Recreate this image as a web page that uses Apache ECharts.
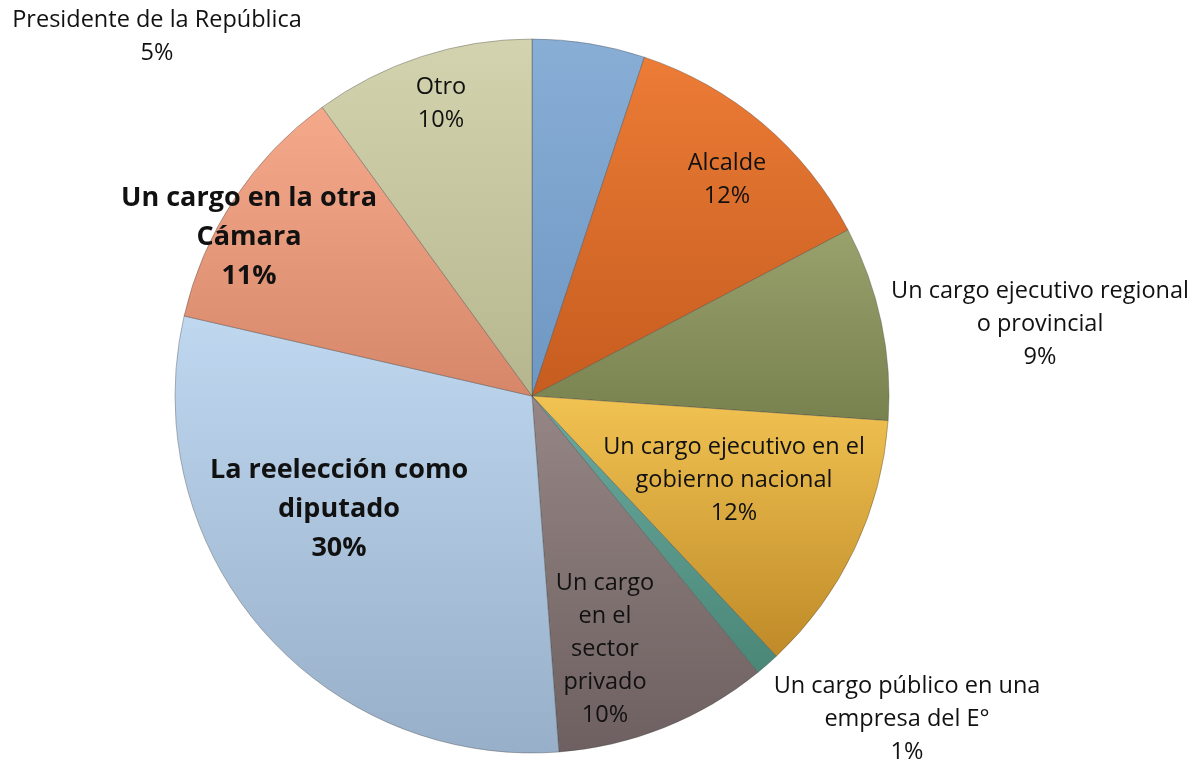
<!DOCTYPE html>
<html>
<head>
<meta charset="utf-8">
<title>pie</title>
<script src="https://cdn.jsdelivr.net/npm/echarts@6/dist/echarts.min.js"></script>
<style>
  body { margin: 0; padding: 0; background: #fff; }
  #main { width: 1196px; height: 761px; }
</style>
</head>
<body>
<div id="main"></div>
<script>
// categories and values (percent), clockwise from 12 o'clock
var categories = [
  'Presidente de la República',
  'Alcalde',
  'Un cargo ejecutivo regional\no provincial',
  'Un cargo ejecutivo en el\ngobierno nacional',
  'Un cargo público en una\nempresa del E°',
  'Un cargo\nen el\nsector\nprivado',
  'La reelección como\ndiputado',
  'Un cargo en la otra\nCámara',
  'Otro'
];
var values = [5.1, 12.2, 8.8, 11.9, 1.1, 9.7, 29.8, 11.4, 10.0];
var boldLabels = [false, false, false, false, false, false, true, true, false];

// colours (top, bottom) for each slice
var colorsTop = ['#88aed6', '#ec7c36', '#99a16d', '#f1c352', '#6aa99f', '#968686', '#bfd7ef', '#f5a98b', '#d3d3af'];
var colorsBottom = ['#6e97c2', '#c65c1f', '#78824e', '#bf8a28', '#4a8777', '#6e6060', '#97afc8', '#d6876a', '#b6b68e'];

// label centres (pixel) for each slice
var labelPos = [
  [157, 37], [727, 180], [1040, 324], [734, 480], [907, 719],
  [605, 649], [339, 509], [249, 237], [441, 104]
];

var myChart = echarts.init(document.getElementById('main'));

var data = values.map(function (v, i) {
  return {
    name: categories[i],
    value: v,
    itemStyle: {
      color: {
        type: 'linear', x: 0, y: 0, x2: 0, y2: 1,
        colorStops: [
          {offset: 0, color: colorsTop[i]},
          {offset: 1, color: colorsBottom[i]}
        ]
      }
    },
    label: boldLabels[i] ? {fontSize: 27, fontWeight: 'bold', lineHeight: 39} : {}
  };
});

myChart.setOption({
  animation: false,
  series: [{
    type: 'pie',
    center: [532, 396],
    radius: [0, 357],
    startAngle: 90,
    clockwise: true,
    avoidLabelOverlap: false,
    itemStyle: {
      borderColor: 'rgba(60,60,60,0.35)',
      borderWidth: 1
    },
    label: {
      show: true,
      position: 'inside',
      color: '#111',
      fontFamily: 'Open Sans',
      fontSize: 23.5,
      lineHeight: 33,
      align: 'center',
      formatter: function (p) {
        return p.name + '\n' + Math.round(p.percent) + '%';
      }
    },
    labelLine: {show: false},
    labelLayout: function (p) {
      return {
        x: labelPos[p.dataIndex][0],
        y: labelPos[p.dataIndex][1],
        align: 'center',
        verticalAlign: 'middle'
      };
    },
    data: data
  }]
});
</script>
</body>
</html>
